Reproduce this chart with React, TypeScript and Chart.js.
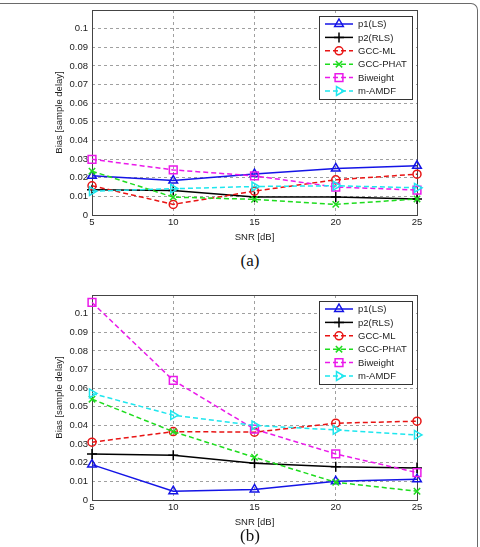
import React, { useEffect, useRef } from 'react';
import { Chart, registerables } from 'chart.js';

Chart.register(...registerables);

// SNR values on the horizontal axis
const snr = [5, 10, 15, 20, 25];
// Bias tick values on the vertical axis
const biasTicks = [0, 0.01, 0.02, 0.03, 0.04, 0.05, 0.06, 0.07, 0.08, 0.09, 0.1];
const seriesNames = ['p1(LS)', 'p2(RLS)', 'GCC-ML', 'GCC-PHAT', 'Biweight', 'm-AMDF'];

// Panel (a)
const aP1 = [0.021, 0.0185, 0.022, 0.025, 0.0264];
const aP2 = [0.0135, 0.0132, 0.0096, 0.0096, 0.0086];
const aMl = [0.0157, 0.0057, 0.0128, 0.0189, 0.0219];
const aPhat = [0.0235, 0.0096, 0.0084, 0.0057, 0.0086];
const aBiweight = [0.0299, 0.0242, 0.021, 0.015, 0.0134];
const aAmdf = [0.0128, 0.0141, 0.0153, 0.0157, 0.0146];

// Panel (b)
const bP1 = [0.019, 0.0047, 0.0057, 0.01, 0.0111];
const bP2 = [0.0247, 0.024, 0.0197, 0.0179, 0.0172];
const bMl = [0.031, 0.0367, 0.0364, 0.0412, 0.0423];
const bPhat = [0.0541, 0.0367, 0.0229, 0.0095, 0.0047];
const bBiweight = [0.106, 0.0642, 0.038, 0.0247, 0.0147];
const bAmdf = [0.0572, 0.0455, 0.04, 0.0376, 0.0349];

const FONT = '"Liberation Sans", Arial, Helvetica, sans-serif';
const FONT_SIZE = 9.5;
const TEXT = '#222';

type Style = { color: string; dash: number[]; marker: string; rotation: number; radius: number };

const styles: Style[] = [
  { color: '#1414e6', dash: [], marker: 'triangle', rotation: 0, radius: 5 },
  { color: '#000000', dash: [], marker: 'cross', rotation: 0, radius: 5 },
  { color: '#e81414', dash: [5, 3], marker: 'circle', rotation: 0, radius: 4 },
  { color: '#1edc1e', dash: [5, 3], marker: 'crossRot', rotation: 0, radius: 4.5 },
  { color: '#ea1aea', dash: [5, 3], marker: 'rect', rotation: 0, radius: 5.5 },
  { color: '#1ee6ee', dash: [5, 3], marker: 'triangle', rotation: 90, radius: 5 },
];

function drawMarker(ctx: CanvasRenderingContext2D, s: Style, x: number, y: number) {
  const r = s.radius;
  ctx.save();
  ctx.translate(x, y);
  ctx.rotate((s.rotation * Math.PI) / 180);
  ctx.setLineDash([]);
  ctx.strokeStyle = s.color;
  ctx.lineWidth = 1.5;
  ctx.beginPath();
  if (s.marker === 'triangle') {
    ctx.moveTo(0, -r);
    ctx.lineTo(r * 0.866, r * 0.5);
    ctx.lineTo(-r * 0.866, r * 0.5);
    ctx.closePath();
  } else if (s.marker === 'cross') {
    ctx.moveTo(-r, 0); ctx.lineTo(r, 0);
    ctx.moveTo(0, -r); ctx.lineTo(0, r);
  } else if (s.marker === 'crossRot') {
    const d = r * 0.707;
    ctx.moveTo(-d, -d); ctx.lineTo(d, d);
    ctx.moveTo(-d, d); ctx.lineTo(d, -d);
  } else if (s.marker === 'circle') {
    ctx.arc(0, 0, r, 0, Math.PI * 2);
  } else if (s.marker === 'rect') {
    const d = r * 0.707;
    ctx.rect(-d, -d, 2 * d, 2 * d);
  }
  ctx.stroke();
  ctx.restore();
}

// Axes box drawn under the data lines
const boxPlugin = {
  id: 'axesBox',
  beforeDatasetsDraw(chart: any) {
    const { ctx, chartArea: a } = chart;
    ctx.save();
    ctx.strokeStyle = '#444';
    ctx.lineWidth = 1;
    ctx.setLineDash([]);
    ctx.strokeRect(Math.round(a.left) + 0.5, Math.round(a.top) + 0.5, Math.round(a.right - a.left), Math.round(a.bottom - a.top));
    ctx.restore();
  },
};

// Boxed legend in the upper right corner of the plot area
const boxLegendPlugin = {
  id: 'boxLegend',
  afterDatasetsDraw(chart: any) {
    const { ctx, chartArea: a } = chart;
    const w = 93;
    const rowH = 13.4;
    const h = 83;
    const x0 = a.right - 5 - w;
    const y0 = a.top + 6;
    ctx.save();
    ctx.fillStyle = '#fff';
    ctx.fillRect(x0, y0, w, h);
    ctx.strokeStyle = '#333';
    ctx.lineWidth = 1;
    ctx.setLineDash([]);
    ctx.strokeRect(Math.round(x0) + 0.5, Math.round(y0) + 0.5, w, h);
    ctx.font = `${FONT_SIZE}px ${FONT}`;
    ctx.textBaseline = 'middle';
    ctx.textAlign = 'left';
    seriesNames.forEach((name, i) => {
      const s = styles[i];
      const cy = y0 + 8 + i * rowH;
      ctx.strokeStyle = s.color;
      ctx.lineWidth = 1.5;
      ctx.setLineDash(s.dash);
      ctx.beginPath();
      ctx.moveTo(x0 + 6, cy);
      ctx.lineTo(x0 + 34, cy);
      ctx.stroke();
      drawMarker(ctx, s, x0 + 20, cy);
      ctx.fillStyle = TEXT;
      ctx.fillText(name, x0 + 39, cy + 0.5);
    });
    ctx.restore();
  },
};

function Panel({ series, top }: { series: number[][]; top: number }) {
  const ref = useRef<HTMLCanvasElement>(null);
  useEffect(() => {
    const chart = new Chart(ref.current as HTMLCanvasElement, {
      type: 'line',
      data: {
        datasets: series.map((vals, i) => ({
          label: seriesNames[i],
          data: vals.map((v, j) => ({ x: snr[j], y: v })),
          borderColor: styles[i].color,
          borderWidth: 1.5,
          borderDash: styles[i].dash,
          pointStyle: styles[i].marker as any,
          rotation: styles[i].rotation,
          pointRadius: styles[i].radius,
          pointBorderWidth: 1.5,
          pointBorderColor: styles[i].color,
          pointBackgroundColor: 'rgba(0,0,0,0)',
          tension: 0,
          fill: false,
          clip: false as any,
          order: seriesNames.length - i,
        })),
      },
      options: {
        responsive: false,
        animation: false,
        events: [],
        layout: { padding: { left: 0, top: 10, right: 63, bottom: 0 } },
        plugins: { legend: { display: false }, tooltip: { enabled: false } },
        scales: {
          x: {
            type: 'linear',
            min: 5,
            max: 25,
            afterBuildTicks: (s: any) => {
              s.ticks = snr.map((v) => ({ value: v }));
            },
            afterFit: (s: any) => {
              s.height = 35;
            },
            grid: { color: '#a0a0a0', lineWidth: 1, drawTicks: false, borderDash: [3, 3] } as any,
            border: { display: false, dash: [3, 3] },
            ticks: {
              padding: 2,
              color: TEXT,
              maxRotation: 0,
              font: { family: FONT, size: FONT_SIZE },
              callback: (v: any) => String(v),
            },
            title: {
              display: true,
              text: 'SNR [dB]',
              color: TEXT,
              font: { family: FONT, size: FONT_SIZE },
              padding: { top: 0, bottom: 7 },
            },
          },
          y: {
            min: 0,
            max: 0.11,
            afterBuildTicks: (s: any) => {
              s.ticks = biasTicks.map((v) => ({ value: v }));
            },
            afterFit: (s: any) => {
              s.width = 92;
            },
            grid: { color: '#a0a0a0', lineWidth: 1, drawTicks: false, borderDash: [3, 3] } as any,
            border: { display: false, dash: [3, 3] },
            ticks: {
              padding: 4,
              color: TEXT,
              font: { family: FONT, size: FONT_SIZE },
              callback: (v: any) => String(+Number(v).toFixed(2)),
            },
            title: {
              display: true,
              text: 'Bias [sample delay]',
              color: TEXT,
              font: { family: FONT, size: FONT_SIZE },
              padding: { top: 54, bottom: 0 },
            },
          },
        },
      },
      plugins: [boxPlugin, boxLegendPlugin],
    });
    return () => chart.destroy();
  }, [series]);
  return (
    <div style={{ position: 'absolute', left: 0, top, width: 480, height: 250 }}>
      <canvas ref={ref} width={480} height={250} style={{ display: 'block' }} />
    </div>
  );
}

const panelA = [aP1, aP2, aMl, aPhat, aBiweight, aAmdf];
const panelB = [bP1, bP2, bMl, bPhat, bBiweight, bAmdf];

const captionStyle: React.CSSProperties = {
  position: 'absolute',
  left: 200,
  width: 100,
  textAlign: 'center',
  fontFamily: '"Liberation Serif", "Times New Roman", serif',
  fontSize: 17,
  lineHeight: '19px',
  color: '#111',
};

export default function App() {
  return (
    <div style={{ position: 'absolute', left: 0, top: 0, width: 480, height: 547, background: '#fff', overflow: 'hidden' }}>
      <div
        style={{
          position: 'absolute',
          left: -10,
          top: 3,
          width: 487,
          height: 620,
          borderTop: '1px solid #6a6a6a',
          borderRight: '1px solid #6a6a6a',
          borderTopRightRadius: 7,
        }}
      />
      <Panel series={panelA} top={0} />
      <div style={{ ...captionStyle, top: 251 }}>(a)</div>
      <Panel series={panelB} top={285} />
      <div style={{ ...captionStyle, top: 526 }}>(b)</div>
    </div>
  );
}
